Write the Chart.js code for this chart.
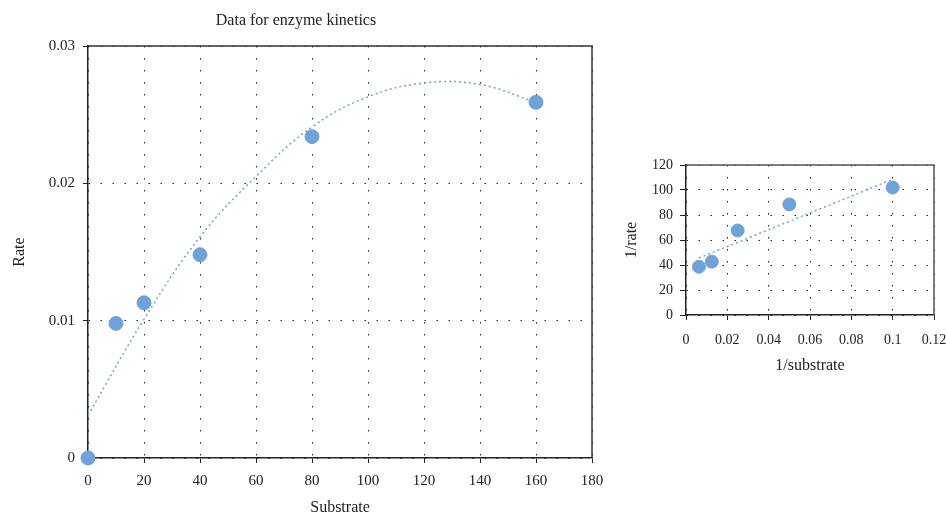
<!DOCTYPE html>
<html>
<head>
<meta charset="utf-8">
<script src="https://cdn.jsdelivr.net/npm/chart.js@4/dist/chart.umd.min.js"></script>
<style>
  html, body { margin: 0; padding: 0; background: #fff; }
  body { width: 946px; height: 517px; position: relative; overflow: hidden; }
  #leftBox { position: absolute; left: 0; top: 0; width: 620px; height: 517px; }
  #rightBox { position: absolute; left: 600px; top: 150px; width: 346px; height: 230px; }
</style>
</head>
<body>
<div id="leftBox"><canvas id="kineticsChart" width="620" height="517"></canvas></div>
<div id="rightBox"><canvas id="inverseChart" width="346" height="230"></canvas></div>
<script>
// Dados
var substrate = [0, 10, 20, 40, 80, 160];
var rate = [0, 0.0098, 0.0113, 0.0148, 0.0234, 0.0259];

// linha de tendência (polinomial)
var trendSubstrate = [0, 20, 40, 60, 80, 100, 120, 140, 160];
var trendRate = [0.0031, 0.0101, 0.0161, 0.0205, 0.0241, 0.0263, 0.0273, 0.0272, 0.0259];

var invSubstrate = [0.1, 0.05, 0.025, 0.0125, 0.00625];
var invRate = [102, 88.5, 67.6, 42.7, 38.6];

var invTrendX = [0.00625, 0.1];
var invTrendY = [45.6, 108.5];

var rateTicks = [0, 0.01, 0.02, 0.03];
var substrateTicks = [0, 20, 40, 60, 80, 100, 120, 140, 160, 180];

var pointBlue = '#6fa3d8';
var ink = '#222';

function toPoints(xs, ys) {
  return xs.map(function (x, i) { return { x: x, y: ys[i] }; });
}

function tidy(value) {
  return String(+Number(value).toFixed(5));
}

Chart.defaults.font.family = "'Liberation Serif', serif";
Chart.defaults.color = ink;

// moldura superior e direita da área do gráfico
var boxPlugin = {
  id: 'box',
  beforeDatasetsDraw: function (chart, args, opts) {
    var a = chart.chartArea;
    var ctx = chart.ctx;
    ctx.save();
    ctx.strokeStyle = opts.color || ink;
    ctx.lineWidth = opts.width || 1.5;
    ctx.beginPath();
    ctx.moveTo(a.left, a.top);
    ctx.lineTo(a.right, a.top);
    ctx.lineTo(a.right, a.bottom);
    ctx.stroke();
    ctx.restore();
  }
};

function axis(opts) {
  return {
    type: 'linear',
    min: opts.min,
    max: opts.max,
    afterFit: function (s) {
      opts.fit(s);
      // sem folga extra para o último rótulo: a área fica onde está na referência
      s.paddingLeft = 0;
      s.paddingRight = 0;
      s.paddingTop = 0;
      s.paddingBottom = 0;
    },
    afterBuildTicks: opts.values ? function (scale) {
      scale.ticks = opts.values.map(function (v) { return { value: v }; });
    } : undefined,
    ticks: {
      stepSize: opts.step,
      padding: opts.pad,
      font: { size: opts.tickSize },
      color: ink,
      callback: tidy
    },
    grid: {
      color: ink,
      lineWidth: 1,
      tickColor: ink,
      tickLength: opts.tickLen || 5,
      tickBorderDash: []
    },
    border: { color: ink, width: 1.5, dash: [1.5, 10.5] },
    title: {
      display: true,
      text: opts.title,
      font: { size: 16 },
      color: ink,
      padding: opts.titlePad
    }
  };
}

new Chart(document.getElementById('kineticsChart'), {
  type: 'scatter',
  plugins: [boxPlugin],
  data: {
    datasets: [
      {
        label: 'Rate',
        data: toPoints(substrate, rate),
        backgroundColor: pointBlue,
        borderColor: pointBlue,
        pointRadius: 7,
        pointHoverRadius: 7,
        clip: false,
        order: 0
      },
      {
        type: 'line',
        label: 'Trend',
        data: toPoints(trendSubstrate, trendRate),
        borderColor: pointBlue,
        borderWidth: 1.5,
        borderDash: [2, 3],
        pointRadius: 0,
        tension: 0.4,
        fill: false,
        order: 1
      }
    ]
  },
  options: {
    responsive: false,
    animation: false,
    layout: { padding: { left: 0, right: 28, top: 0, bottom: 0 } },
    plugins: {
      legend: { display: false },
      tooltip: { enabled: false },
      title: {
        display: true,
        text: 'Data for enzyme kinetics',
        font: { size: 16, weight: 'normal' },
        color: ink,
        padding: { top: 11, bottom: 15.8 }
      },
      box: { color: '#333', width: 1.5 }
    },
    scales: {
      x: axis({
        min: 0, max: 180, step: 20, pad: 9, tickSize: 15, title: 'Substrate',
        values: substrateTicks,
        titlePad: { top: 0, bottom: 0 },
        fit: function (s) { s.height = 59; }
      }),
      y: axis({
        min: 0, max: 0.03, step: 0.01, pad: 8, tickSize: 15, title: 'Rate',
        values: rateTicks,
        titlePad: { top: 10, bottom: 0 },
        fit: function (s) { s.width = 88; }
      })
    }
  }
});

new Chart(document.getElementById('inverseChart'), {
  type: 'scatter',
  plugins: [boxPlugin],
  data: {
    datasets: [
      {
        label: '1/rate',
        data: toPoints(invSubstrate, invRate),
        backgroundColor: pointBlue,
        borderColor: pointBlue,
        pointRadius: 6.5,
        pointHoverRadius: 6.5,
        clip: false,
        order: 0
      },
      {
        type: 'line',
        label: 'Trend',
        data: toPoints(invTrendX, invTrendY),
        borderColor: pointBlue,
        borderWidth: 1.5,
        borderDash: [2, 3],
        pointRadius: 0,
        fill: false,
        order: 1
      }
    ]
  },
  options: {
    responsive: false,
    animation: false,
    layout: { padding: { left: 0, right: 12, top: 15, bottom: 0 } },
    plugins: {
      legend: { display: false },
      tooltip: { enabled: false },
      box: { color: '#555', width: 1.5 }
    },
    scales: {
      x: axis({
        min: 0, max: 0.12, step: 0.02, pad: 12, tickSize: 14, title: '1/substrate',
        titlePad: { top: 0, bottom: 5 },
        fit: function (s) { s.height = 65; }
      }),
      y: axis({
        min: 0, max: 120, step: 20, pad: 7, tickSize: 14, tickLen: 6, title: '1/rate',
        titlePad: { top: 22, bottom: 0 },
        fit: function (s) { s.width = 86; }
      })
    }
  }
});
</script>
</body>
</html>
